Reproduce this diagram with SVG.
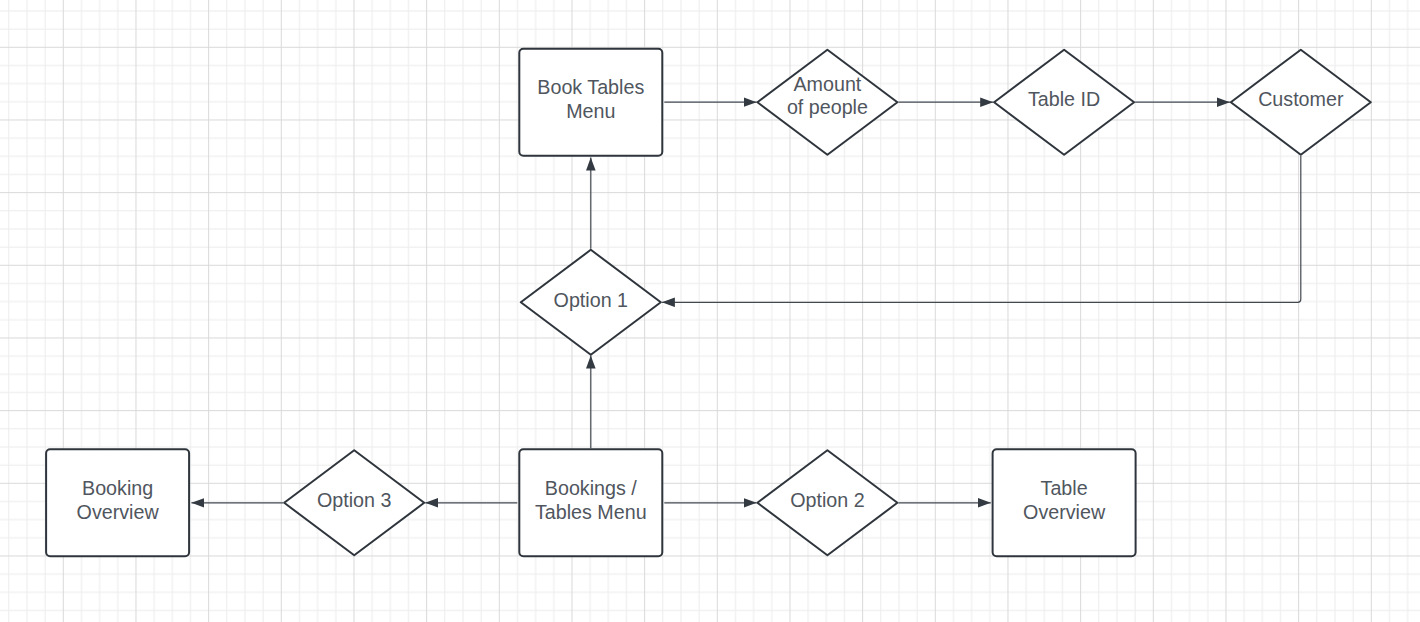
<svg xmlns="http://www.w3.org/2000/svg" width="1420" height="622" viewBox="0 0 1420 622">
<style>
.node rect{fill:#ffffff;stroke:#2f353c;stroke-width:2}
.node polygon{fill:#ffffff;stroke:#2f353c;stroke-width:2;stroke-linejoin:round}
.node text{font-family:"Liberation Sans",Arial,sans-serif;font-size:19.7px;fill:#50565e;text-anchor:middle}
.edge{fill:none;stroke:#414850;stroke-width:1.2}
</style>
<defs>
<pattern id="grid" patternUnits="userSpaceOnUse" x="62.8" y="46.8" width="72.667" height="72.667">
<g fill="#ececec">
<rect x="18.167" y="0" width="1" height="72.667"/>
<rect x="36.333" y="0" width="1" height="72.667"/>
<rect x="54.5" y="0" width="1" height="72.667"/>
<rect x="0" y="18.167" width="72.667" height="1"/>
<rect x="0" y="36.333" width="72.667" height="1"/>
<rect x="0" y="54.5" width="72.667" height="1"/>
</g>
<g fill="#d9d9d9">
<rect x="0" y="0" width="1" height="72.667"/>
<rect x="0" y="0" width="72.667" height="1"/>
</g>
</pattern>
<marker id="arrow" markerUnits="userSpaceOnUse" markerWidth="14" markerHeight="10" refX="13" refY="4.8" orient="auto">
<path d="M0,0 L13,4.8 L0,9.6 Z" fill="#333a42"/>
</marker>
</defs>
<rect x="0" y="0" width="1420" height="622" fill="#ffffff"/>
<rect x="0" y="0" width="1420" height="622" fill="url(#grid)"/>

<g id="connectors">
<path class="edge" d="M664.3,102.2 H756.6" marker-end="url(#arrow)"/>
<path class="edge" d="M898.4,102.2 H993.2" marker-end="url(#arrow)"/>
<path class="edge" d="M1135.1,102.2 H1229.9" marker-end="url(#arrow)"/>
<path class="edge" d="M1300.8,155.7 V299.3 Q1300.8,302.3 1297.8,302.3 H661.9" marker-end="url(#arrow)"/>
<path class="edge" d="M590.8,248.8 V157.6" marker-end="url(#arrow)"/>
<path class="edge" d="M590.8,448.3 V355.6" marker-end="url(#arrow)"/>
<path class="edge" d="M664.3,502.8 H756.6" marker-end="url(#arrow)"/>
<path class="edge" d="M898.4,502.8 H990.8" marker-end="url(#arrow)"/>
<path class="edge" d="M517.3,502.8 H425.2" marker-end="url(#arrow)"/>
<path class="edge" d="M283.2,502.8 H191.4" marker-end="url(#arrow)"/>
</g>

<g id="book-tables-menu" class="node">
<rect x="519.3" y="48.7" width="143" height="107" rx="4"/>
<text x="590.8" y="94">Book Tables</text>
<text x="590.8" y="118">Menu</text>
</g>
<g id="amount-of-people" class="node">
<polygon points="757.4,102.2 827.4,49.7 897.4,102.2 827.4,154.7"/>
<text x="827.4" y="91">Amount</text>
<text x="827.4" y="114.3">of people</text>
</g>
<g id="table-id" class="node">
<polygon points="994.1,102.2 1064.1,49.7 1134.1,102.2 1064.1,154.7"/>
<text x="1064.1" y="106.2">Table ID</text>
</g>
<g id="customer" class="node">
<polygon points="1230.8,102.2 1300.8,49.7 1370.8,102.2 1300.8,154.7"/>
<text x="1300.8" y="106">Customer</text>
</g>
<g id="option-1" class="node">
<polygon points="520.8,302.3 590.8,249.8 660.8,302.3 590.8,354.8"/>
<text x="590.8" y="306.8">Option 1</text>
</g>
<g id="bookings-tables-menu" class="node">
<rect x="519.3" y="449.3" width="143" height="107" rx="4"/>
<text x="590.8" y="494.6">Bookings /</text>
<text x="590.8" y="518.6">Tables Menu</text>
</g>
<g id="option-2" class="node">
<polygon points="757.4,502.8 827.4,450.3 897.4,502.8 827.4,555.3"/>
<text x="827.4" y="507.3">Option 2</text>
</g>
<g id="table-overview" class="node">
<rect x="992.6" y="449.3" width="143" height="107" rx="4"/>
<text x="1064.1" y="494.6">Table</text>
<text x="1064.1" y="518.6">Overview</text>
</g>
<g id="option-3" class="node">
<polygon points="284.2,502.8 354.2,450.3 424.2,502.8 354.2,555.3"/>
<text x="354.2" y="507.3">Option 3</text>
</g>
<g id="booking-overview" class="node">
<rect x="46.1" y="449.3" width="143" height="107" rx="4"/>
<text x="117.6" y="494.6">Booking</text>
<text x="117.6" y="518.6">Overview</text>
</g>
</svg>
